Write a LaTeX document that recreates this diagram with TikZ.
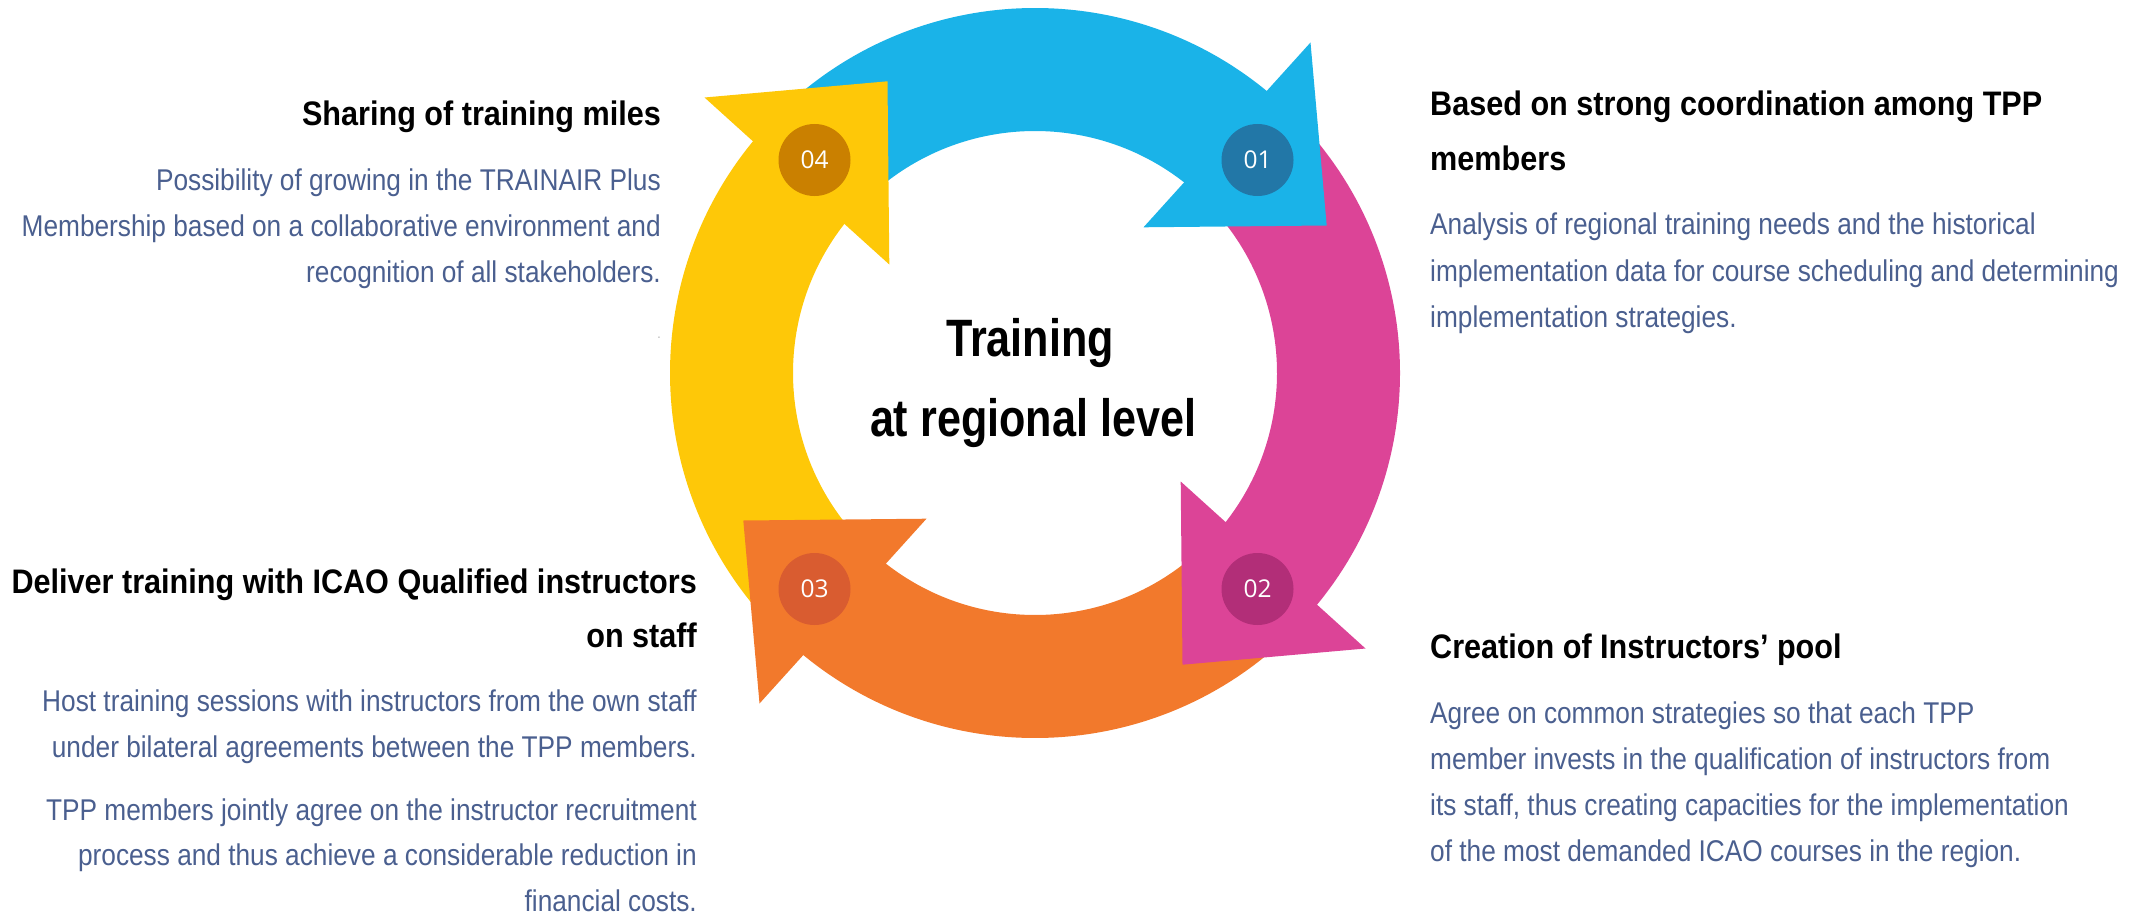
\documentclass[tikz,border=0pt]{standalone}
\usepackage{fontspec}
\setmainfont{Liberation Sans}
\newfontfamily\bodyfont[FakeStretch=0.875]{Liberation Sans}
\newfontfamily\headfont[FakeStretch=0.9]{Liberation Sans}
\newfontfamily\titlefont[FakeStretch=0.82]{Liberation Sans}
\newfontfamily\badgefont{Open Sans}
\definecolor{cblue}{HTML}{1AB3E8}
\definecolor{cpink}{HTML}{DC4497}
\definecolor{corange}{HTML}{F2792C}
\definecolor{cyellow}{HTML}{FEC808}
\definecolor{bblue}{HTML}{2277A7}
\definecolor{bpink}{HTML}{B22E78}
\definecolor{borange}{HTML}{D95C30}
\definecolor{byellow}{HTML}{CA8000}
\definecolor{bodytxt}{HTML}{4A5F8F}
\tikzset{
  bodytext/.style={font=\bodyfont\fontsize{30}{36}\selectfont, text=bodytxt, inner sep=0pt},
  headtext/.style={font=\headfont\bfseries\fontsize{34}{40}\selectfont, text=black, inner sep=0pt},
  titletext/.style={font=\titlefont\bfseries\fontsize{52.6}{60}\selectfont, text=black, inner sep=0pt, anchor=base},
  badge/.style={circle, minimum size=72pt, inner sep=0pt, text=white, font=\badgefont\fontsize{24.5}{28}\selectfont},
}
\begin{document}
\begin{tikzpicture}[x=1pt,y=-1pt]
\useasboundingbox (0,0) rectangle (2149,915);
% ring: each arrow is the blue one turned by a quarter turn about the centre
\begin{scope}[shift={(1035,373)}, yscale=-1]
  \foreach \rot/\col in {0/cblue, 90/cpink, 180/corange, -90/cyellow} {
    \fill[\col, rotate=\rot] (47:365) arc[start angle=47, end angle=135, radius=365]
      -- (135:242) arc[start angle=135, end angle=47, radius=242] -- cycle;
  }
  \foreach \rot/\col in {0/cblue, 90/cpink, 180/corange, -90/cyellow} {
    \fill[\col, rotate=\rot] (275.5,330.5) -- (291.7,147.5) -- (108.5,145.7) -- cycle;
  }
\end{scope}
% badges
\node[badge, fill=bblue] (b1) at (1257.5,160) {01};
\node[badge, fill=bpink] (b2) at (1257.5,589) {02};
\node[badge, fill=borange] (b3) at (814.5,589) {03};
\node[badge, fill=byellow] (b4) at (814.5,160) {04};
% title
\node[titletext] (t1) at (1030,356.7) {Training};
\node[titletext] (t2) at (1033,436) {at regional level};
% left top
\node[headtext, anchor=base east] (lth) at (661,126) {Sharing of training miles};
\node[bodytext, anchor=base east] (lt1) at (661,190) {Possibility of growing in the TRAINAIR Plus};
\node[bodytext, anchor=base east] (lt2) at (661,236) {Membership based on a collaborative environment and};
\node[bodytext, anchor=base east] (lt3) at (661,282) {recognition of all stakeholders.};
\node[bodytext, anchor=base east, text=gray!60, font=\bodyfont\fontsize{14}{16}\selectfont] (dot) at (661,338) {.};
% right top
\node[headtext, anchor=base west] (rth1) at (1430,116) {Based on strong coordination among TPP};
\node[headtext, anchor=base west] (rth2) at (1430,170.7) {members};
\node[bodytext, anchor=base west] (rt1) at (1430,234.3) {Analysis of regional training needs and the historical};
\node[bodytext, anchor=base west] (rt2) at (1430,281) {implementation data for course scheduling and determining};
\node[bodytext, anchor=base west] (rt3) at (1430,327.7) {implementation strategies.};
% right bottom
\node[headtext, anchor=base west] (rbh) at (1430,658.3) {Creation of Instructors’ pool};
\node[bodytext, anchor=base west] (rb1) at (1430,723) {Agree on common strategies so that each TPP};
\node[bodytext, anchor=base west] (rb2) at (1430,769.5) {member invests in the qualification of instructors from};
\node[bodytext, anchor=base west] (rb3) at (1430,815.4) {its staff, thus creating capacities for the implementation};
\node[bodytext, anchor=base west] (rb4) at (1430,861) {of the most demanded ICAO courses in the region.};
% left bottom
\node[headtext, anchor=base east] (lbh1) at (697,593.6) {Deliver training with ICAO Qualified instructors};
\node[headtext, anchor=base east] (lbh2) at (697,647) {on staff};
\node[bodytext, anchor=base east] (lb1) at (697,711.4) {Host training sessions with instructors from the own staff};
\node[bodytext, anchor=base east] (lb2) at (697,757.4) {under bilateral agreements between the TPP members.};
\node[bodytext, anchor=base east] (lb3) at (697,820) {TPP members jointly agree on the instructor recruitment};
\node[bodytext, anchor=base east] (lb4) at (697,865.5) {process and thus achieve a considerable reduction in};
\node[bodytext, anchor=base east] (lb5) at (697,911.4) {financial costs.};
\end{tikzpicture}
\end{document}
